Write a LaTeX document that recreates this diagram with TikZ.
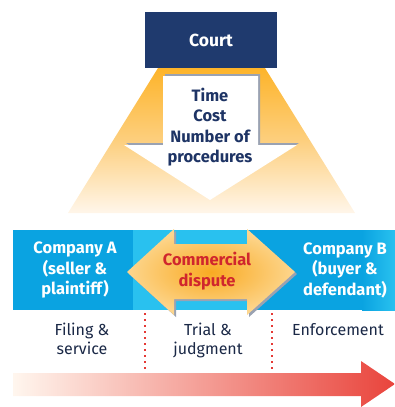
\documentclass[tikz,border=0pt]{standalone}
\usepackage{fontspec}
\setmainfont{Fira Sans}
\definecolor{courtnavy}{HTML}{1F3A6E}
\definecolor{txtnavy}{HTML}{1E3465}
\definecolor{darktxt}{HTML}{1A2846}
\definecolor{beamtop}{HTML}{FDB42A}
\definecolor{beammid}{HTML}{FDCF7E}
\definecolor{beambot}{HTML}{FFF6EA}
\definecolor{bandblue}{HTML}{0AA3E1}
\definecolor{bandlight}{HTML}{29C1EF}
\definecolor{arrorange}{HTML}{F9AA22}
\definecolor{arrpale}{HTML}{FDD68E}
\definecolor{disputered}{HTML}{D0262D}
\definecolor{shadowgray}{HTML}{9AA2B2}
\definecolor{dotred}{HTML}{E53935}
\definecolor{timeleft}{HTML}{FFF6EE}
\definecolor{timeright}{HTML}{E9443C}
\tikzset{
  boxtext/.style={font=\bfseries\fontsize{16.5}{20.5}\selectfont, align=center, inner sep=0pt},
  whitetext/.style={boxtext, text=white},
  stagetext/.style={font=\fontsize{16}{18.5}\selectfont, align=center, inner sep=0pt, text=darktxt, anchor=north},
  divider/.style={dotred, line width=2pt, dash pattern=on 2pt off 4pt},
}
\begin{document}
\begin{tikzpicture}[x=1pt, y=-1pt]
\useasboundingbox (0,0) rectangle (395,407);
% light beam
\shade[top color=beamtop, bottom color=beambot, middle color=beammid]
  (158,68) -- (265,68) -- (355,213) -- (68,213) -- cycle;
% court
\node[fill=courtnavy, minimum width=132pt, minimum height=56pt, inner sep=0pt,
  font=\bfseries\fontsize{17.5}{20}\selectfont, text=white] (court) at (211,40) {Court};
% down arrow: shadow then white
\fill[shadowgray, shift={(2,-2)}]
  (163,76) -- (258,76) -- (258,145) -- (297,145) -- (210,200) -- (124,145) -- (163,145) -- cycle;
\fill[white]
  (163,76) -- (258,76) -- (258,145) -- (297,145) -- (210,200) -- (124,145) -- (163,145) -- cycle;
\node[boxtext, text=txtnavy] (criteria) at (210,127) {Time\\Cost\\Number of\\procedures};
% blue band
\fill[bandblue] (13,230) rectangle (395,310);
\fill[bandlight] (133,230) rectangle (247,310);
\shade[left color=bandblue, right color=bandlight] (362,230) rectangle (395,310);
% double arrow
\fill[shadowgray, shift={(2,2)}]
  (127,272) -- (174,229) -- (174,244) -- (247,244) -- (247,229) -- (295,272)
  -- (247,315) -- (247,299) -- (174,299) -- (174,315) -- cycle;
\shade[inner color=arrorange, outer color=arrpale]
  (127,272) -- (174,229) -- (174,244) -- (247,244) -- (247,229) -- (295,272)
  -- (247,315) -- (247,299) -- (174,299) -- (174,315) -- cycle;
\node[boxtext, text=disputered] (dispute) at (207,271) {Commercial\\dispute};
\node[whitetext] (compa) at (75,270) {Company A\\(seller \&\\plaintiff)};
\node[whitetext] (compb) at (345,270) {Company B\\(buyer \&\\defendant)};
% dividers
\coordinate (d1t) at (145,313); \coordinate (d1b) at (145,371);
\coordinate (d2t) at (272,313); \coordinate (d2b) at (272,371);
\draw[divider] (d1t) -- (d1b);
\draw[divider] (d2t) -- (d2b);
% stages
\node[stagetext] (filing) at (82,323) {Filing \&\\service};
\node[stagetext] (trial) at (208,323) {Trial \&\\judgment};
\node[stagetext] (enforce) at (338,323) {Enforcement};
% time arrow
\shade[left color=timeleft, right color=timeright]
  (13,373) -- (361,373) -- (361,361) -- (395,384) -- (361,407) -- (361,396) -- (13,396) -- cycle;
\end{tikzpicture}
\end{document}
